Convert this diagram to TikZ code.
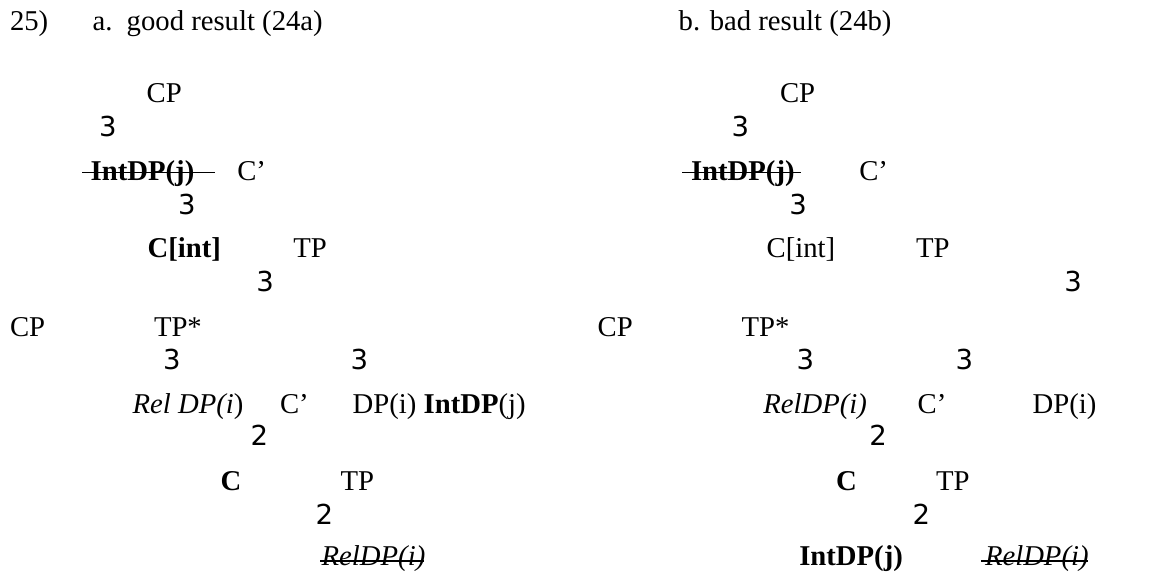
\documentclass[tikz,border=0pt]{standalone}
\usepackage{fontspec}
\setmainfont{Liberation Serif}
\newfontfamily\branchfont{DejaVu Sans}
\begin{document}
\begin{tikzpicture}[x=1pt,y=-1pt,
  every node/.style={inner sep=0pt,outer sep=0pt,anchor=base west,
    font=\fontsize{28.7}{34}\selectfont},
  br/.style={font=\fontsize{27.5}{34}\selectfont\branchfont},
  strike/.style={line width=1.3pt}]
\useasboundingbox (0,0) rectangle (1156,577);

% heading
\node (num) at (10,31) {25)};
\node (la) at (92.7,31) {a.};
\node (ta) at (126.7,31) {good result (24a)};
\node (tb) at (678.7,31) {b. bad result (24b)};

% tree a
\node (aCP) at (146.7,102.7) {CP};
\node[br] (ab1) at (99,137) {3};
\node (aInt) at (90.7,181) {\textbf{IntDP(j)}};
\node (aCbar) at (237.3,181) {C’};
\node[br] (ab2) at (178,215) {3};
\node (aCint) at (147.7,257.7) {\textbf{C[int]}};
\node (aTP) at (293.3,257.7) {TP};
\node[br] (ab3) at (256.3,291.7) {3};
\node (aCP2) at (10,336) {CP};
\node (aTPs) at (154,336) {TP*};
\node[br] (ab4) at (163,369.3) {3};
\node[br] (ab5) at (350.7,369.3) {3};
\node (aRel) at (132.7,413.3) {\textit{Rel DP(i}\/)};
\node (aCbar2) at (280,413.3) {C’};
\node (aDP) at (352.7,413.3) {DP(i) \textbf{IntDP}(j)};
\node[br] (ab6) at (250.7,445.7) {2};
\node (aC) at (220.7,490) {\textbf{C}};
\node (aTP2) at (340.7,490) {TP};
\node[br] (ab7) at (315.7,524) {2};
\node (aRel2) at (321.7,565) {\textit{RelDP(i)}};

% tree b
\node (bCP) at (780,102.7) {CP};
\node[br] (bb1) at (731.7,137) {3};
\node (bInt) at (691,181) {\textbf{IntDP(j)}};
\node (bCbar) at (859.3,181) {C’};
\node[br] (bb2) at (789.3,215) {3};
\node (bCint) at (766.7,257.7) {C[int]};
\node (bTP) at (916,257.7) {TP};
\node[br] (bb3) at (1064.3,291.7) {3};
\node (bCP2) at (597.7,336) {CP};
\node (bTPs) at (741.7,336) {TP*};
\node[br] (bb4) at (796.7,369.3) {3};
\node[br] (bb5) at (955.7,369.3) {3};
\node (bRel) at (763.3,413.3) {\textit{RelDP(i)}};
\node (bCbar2) at (917.7,413.3) {C’};
\node (bDP) at (1032.7,413.3) {DP(i)};
\node[br] (bb6) at (869.3,445.7) {2};
\node (bC) at (836,490) {\textbf{C}};
\node (bTP2) at (936,490) {TP};
\node[br] (bb7) at (912.7,524) {2};
\node (bInt2) at (799.3,565) {\textbf{IntDP(j)}};
\node (bRel2) at (985,565) {\textit{RelDP(i)}};

% struck-out copies
\draw[strike] ([xshift=-8.4pt,yshift=8.3pt]aInt.base west) -- ([xshift=21pt,yshift=8.3pt]aInt.base east);
\draw[strike] ([xshift=-9pt,yshift=8.3pt]bInt.base west) -- ([xshift=6pt,yshift=8.3pt]bInt.base east);
\draw[strike] ([xshift=-1.7pt,yshift=4pt]aRel2.base west) -- ([xshift=-1pt,yshift=4pt]aRel2.base east);
\draw[strike] ([xshift=-4pt,yshift=4pt]bRel2.base west) -- ([xshift=-1pt,yshift=4pt]bRel2.base east);
\end{tikzpicture}
\end{document}
